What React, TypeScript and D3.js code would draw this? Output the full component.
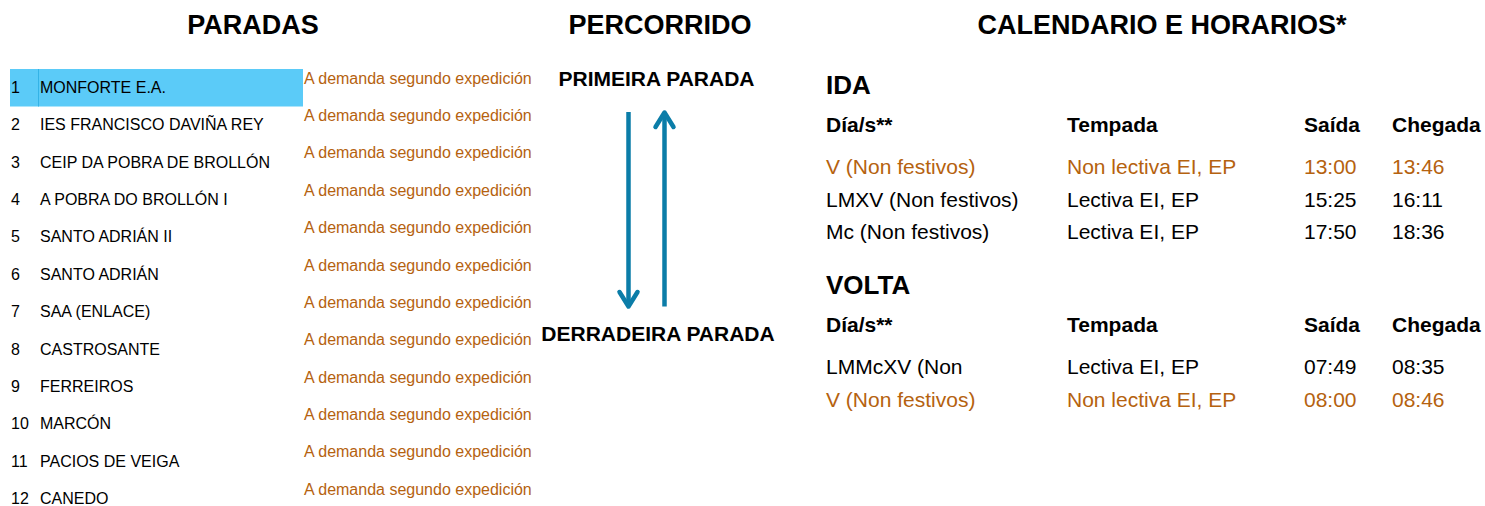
import React, { useEffect } from 'react';
import * as d3 from 'd3';

// stops on the route
const stopNames = [
  'MONFORTE E.A.',
  'IES FRANCISCO DAVIÑA REY',
  'CEIP DA POBRA DE BROLLÓN',
  'A POBRA DO BROLLÓN I',
  'SANTO ADRIÁN II',
  'SANTO ADRIÁN',
  'SAA (ENLACE)',
  'CASTROSANTE',
  'FERREIROS',
  'MARCÓN',
  'PACIOS DE VEIGA',
  'CANEDO',
];
const stopNote = 'A demanda segundo expedición';
const highlightedStop = 0;

const sectionTitles = ['PARADAS', 'PERCORRIDO', 'CALENDARIO E HORARIOS*'];
const routeLabels = ['PRIMEIRA PARADA', 'DERRADEIRA PARADA'];

const columnHeaders = ['Día/s**', 'Tempada', 'Saída', 'Chegada'];

const idaDays = ['V (Non festivos)', 'LMXV (Non festivos)', 'Mc (Non festivos)'];
const idaSeasons = ['Non lectiva EI, EP', 'Lectiva EI, EP', 'Lectiva EI, EP'];
const idaDepartures = ['13:00', '15:25', '17:50'];
const idaArrivals = ['13:46', '16:11', '18:36'];
const idaNonTeaching = [true, false, false];

const voltaDays = ['LMMcXV (Non', 'V (Non festivos)'];
const voltaSeasons = ['Lectiva EI, EP', 'Non lectiva EI, EP'];
const voltaDepartures = ['07:49', '08:00'];
const voltaArrivals = ['08:35', '08:46'];
const voltaNonTeaching = [false, true];

const FONT = '"Liberation Sans", Arial, Helvetica, sans-serif';
const ORANGE = '#b5620f';
const BLUE = '#0b7da8';
const W = 1485;
const H = 506;

const App = () => {
  useEffect(() => {
    document.body.style.margin = '0';
  }, []);

  const rowY = d3
    .scalePoint<number>()
    .domain(d3.range(stopNames.length))
    .range([93, 504]);

  const colX = d3
    .scaleOrdinal<string, number>()
    .domain(columnHeaders)
    .range([826, 1067, 1304, 1392]);

  const titleX = d3
    .scaleOrdinal<string, number>()
    .domain(sectionTitles)
    .range([253, 660, 1162]);

  const tripRowY = d3.scaleLinear().domain([0, 1]).range([0, 32.2]);

  const renderTable = (
    title: string,
    titleY: number,
    headY: number,
    firstRowY: number,
    days: string[],
    seasons: string[],
    deps: string[],
    arrs: string[],
    nonTeaching: boolean[]
  ) => (
    <g>
      <text x={826} y={titleY} fontSize={26} fontWeight="bold" fill="#000">
        {title}
      </text>
      {columnHeaders.map((h) => (
        <text key={h} x={colX(h)} y={headY} fontSize={21} fontWeight="bold" fill="#000">
          {h}
        </text>
      ))}
      {days.map((d, i) => {
        const y = firstRowY + tripRowY(i);
        const fill = nonTeaching[i] ? ORANGE : '#000';
        const cells = [d, seasons[i], deps[i], arrs[i]];
        return (
          <g key={i} fill={fill}>
            {cells.map((c, j) => (
              <text key={j} x={colX(columnHeaders[j])} y={y} fontSize={21}>
                {c}
              </text>
            ))}
          </g>
        );
      })}
    </g>
  );

  return (
    <svg
      width={W}
      height={H}
      style={{ position: 'absolute', left: 0, top: 0, fontFamily: FONT }}
    >
      <rect width={W} height={H} fill="#fff" />

      {sectionTitles.map((t) => (
        <text
          key={t}
          x={titleX(t)}
          y={34}
          textAnchor="middle"
          fontSize={27}
          fontWeight="bold"
          fill="#000"
        >
          {t}
        </text>
      ))}

      {/* stops list */}
      <rect
        x={10}
        y={(rowY(highlightedStop) as number) - 24}
        width={293}
        height={37.5}
        fill="#5bcbf8"
      />
      <line
        x1={38.5}
        x2={38.5}
        y1={(rowY(highlightedStop) as number) - 24}
        y2={(rowY(highlightedStop) as number) + 13.5}
        stroke="#34b3e6"
        strokeWidth={1}
      />
      {stopNames.map((name, i) => {
        const y = rowY(i) as number;
        return (
          <g key={name}>
            <text x={11} y={y} fontSize={16} fill="#000">
              {i + 1}
            </text>
            <text x={40} y={y} fontSize={16} fill="#000">
              {name}
            </text>
            <text x={304} y={y - 9.3} fontSize={16} fill={ORANGE}>
              {stopNote}
            </text>
          </g>
        );
      })}

      {/* route */}
      <text x={656.5} y={86} textAnchor="middle" fontSize={21} fontWeight="bold" fill="#000">
        {routeLabels[0]}
      </text>
      <text x={658} y={341} textAnchor="middle" fontSize={21} fontWeight="bold" fill="#000">
        {routeLabels[1]}
      </text>
      <g stroke={BLUE} strokeWidth={4.5} fill="none" strokeLinecap="round" strokeLinejoin="round">
        <line x1={628.5} x2={628.5} y1={112} y2={307} strokeLinecap="butt" />
        <polyline points="619.5,292 628.5,306.5 637.5,292" />
        <line x1={664.5} x2={664.5} y1={306.5} y2={112} strokeLinecap="butt" />
        <polyline points="655.5,127 664.5,112.5 673.5,127" />
      </g>

      {/* schedules */}
      {renderTable('IDA', 94, 132, 174.3, idaDays, idaSeasons, idaDepartures, idaArrivals, idaNonTeaching)}
      {renderTable(
        'VOLTA',
        293.5,
        332,
        374.3,
        voltaDays,
        voltaSeasons,
        voltaDepartures,
        voltaArrivals,
        voltaNonTeaching
      )}
    </svg>
  );
};

export default App;
